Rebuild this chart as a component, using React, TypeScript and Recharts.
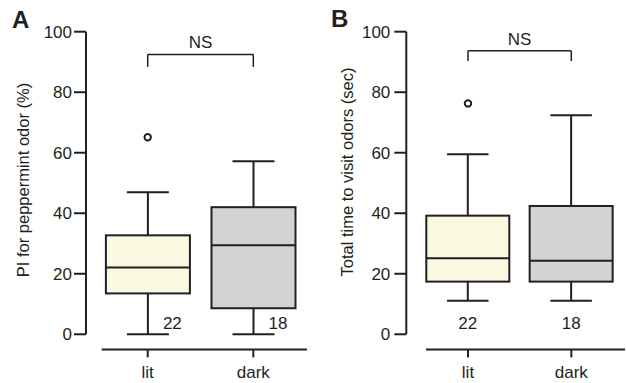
import React from "react";
import {
  ComposedChart,
  Bar,
  Line,
  XAxis,
  YAxis,
  ReferenceLine,
} from "recharts";

const categories = ["lit", "dark"];
const counts = [22, 18];

// panel A: PI for peppermint odor (%)
const piMin = [0, 0];
const piQ1 = [13.5, 8.6];
const piMedian = [22.1, 29.4];
const piQ3 = [32.7, 42.0];
const piMax = [46.9, 57.2];
const piOutlier = [65.1, null];

// panel B: total time to visit odors (sec)
const timeMin = [11.1, 11.1];
const timeQ1 = [17.4, 17.4];
const timeMedian = [25.1, 24.3];
const timeQ3 = [39.2, 42.4];
const timeMax = [59.5, 72.4];
const timeOutlier = [76.3, null];

const yTicks = [0, 20, 40, 60, 80, 100];
const boxFill = ["#fbf8e1", "#d3d3d3"];

const INK = "#231f20";
const FONT = "'Liberation Sans', Arial, Helvetica, sans-serif";
const FS = 17;

function buildRows(min: any[], q1: any[], med: any[], q3: any[], max: any[], out: any[]) {
  return categories.map((name, i) => ({
    name,
    min: min[i],
    q1: q1[i],
    median: med[i],
    q3: q3[i],
    max: max[i],
    outlier: out[i],
    n: counts[i],
    fill: boxFill[i],
  }));
}

const dataA = buildRows(piMin, piQ1, piMedian, piQ3, piMax, piOutlier);
const dataB = buildRows(timeMin, timeQ1, timeMedian, timeQ3, timeMax, timeOutlier);

const makeBoxShape = (countDx: number, anchor: string) => (props: any) => {
  const { x, y, width, height, payload } = props;
  const h = Math.abs(height);
  const top = height < 0 ? y + height : y;
  const span = payload.max - payload.min;
  const pix = (v: number) => top + (h * (payload.max - v)) / span;
  const cx = x + width / 2;
  const cap = width / 4;
  const zeroY = pix(0);
  return (
    <g>
      <line x1={cx} x2={cx} y1={pix(payload.max)} y2={pix(payload.min)} stroke={INK} strokeWidth={2} />
      <line x1={cx - cap} x2={cx + cap} y1={pix(payload.max)} y2={pix(payload.max)} stroke={INK} strokeWidth={2} />
      <line x1={cx - cap} x2={cx + cap} y1={pix(payload.min)} y2={pix(payload.min)} stroke={INK} strokeWidth={2} />
      <rect
        x={x}
        y={pix(payload.q3)}
        width={width}
        height={pix(payload.q1) - pix(payload.q3)}
        fill={payload.fill}
        stroke={INK}
        strokeWidth={2}
      />
      <line x1={x} x2={x + width} y1={pix(payload.median)} y2={pix(payload.median)} stroke={INK} strokeWidth={2} />
      <text
        x={cx + countDx}
        y={zeroY - 5}
        textAnchor={anchor}
        fontSize={FS}
        fontFamily={FONT}
        fill={INK}
      >
        {payload.n}
      </text>
    </g>
  );
};

const OutlierDot = (props: any) => {
  const { cx, cy, payload } = props;
  if (payload.outlier == null || cy == null) return null;
  return <circle cx={cx} cy={cy} r={3.2} fill="#fff" stroke={INK} strokeWidth={2} />;
};

function BoxPanel({ data, left, marginLeft, padLeft, padRight, marginRight, xGap, barSize, countDx, anchor, bracket, bracketEnd, yTickMargin }: any) {
  return (
    <div style={{ position: "absolute", left, top: 0 }}>
      <ComposedChart
        width={313}
        height={383}
        data={data}
        margin={{ top: 31.7, bottom: 3.6, left: marginLeft, right: marginRight }}
      >
        <XAxis
          dataKey="name"
          height={30}
          padding={{ left: padLeft, right: padRight }}
          axisLine={{ stroke: INK, strokeWidth: 2, strokeDasharray: `0 ${xGap} 600` }}
          tickLine={{ stroke: INK, strokeWidth: 2 }}
          tickSize={8}
          tickMargin={9}
          tick={{ fill: INK, fontSize: FS, fontFamily: FONT }}
        />
        <YAxis
          type="number"
          domain={[-5, 100]}
          ticks={yTicks}
          allowDataOverflow
          width={60}
          axisLine={{ stroke: INK, strokeWidth: 2, strokeDasharray: "302.6 600" }}
          tickLine={{ stroke: INK, strokeWidth: 2 }}
          tickSize={12}
          tickMargin={yTickMargin}
          tick={{ fill: INK, fontSize: FS, fontFamily: FONT }}
        />
        <Bar
          dataKey={(d: any) => [d.min, d.max]}
          barSize={barSize}
          shape={makeBoxShape(countDx, anchor)}
          isAnimationActive={false}
        />
        <Line
          dataKey="outlier"
          stroke="none"
          dot={<OutlierDot />}
          activeDot={false}
          isAnimationActive={false}
        />
        <ReferenceLine
          segment={[{ x: "lit", y: bracket }, { x: "dark", y: bracket }]}
          stroke={INK}
          strokeWidth={1.5}
          label={{ value: "NS", position: "top", offset: 6, fill: INK, fontSize: FS, fontFamily: FONT }}
        />
        <ReferenceLine segment={[{ x: "lit", y: bracket }, { x: "lit", y: bracketEnd }]} stroke={INK} strokeWidth={1.5} />
        <ReferenceLine segment={[{ x: "dark", y: bracket }, { x: "dark", y: bracketEnd }]} stroke={INK} strokeWidth={1.5} />
      </ComposedChart>
    </div>
  );
}

export default function App() {
  return (
    <div style={{ position: "absolute", left: 0, top: 0, width: 626, height: 383, background: "#fff" }}>
      <BoxPanel
        data={dataA}
        left={0}
        marginLeft={26}
        marginRight={6}
        padLeft={8.9}
        padRight={0.9}
        xGap={15.7}
        barSize={84}
        countDx={15}
        anchor="start"
        bracket={92.5}
        bracketEnd={88.4}
        yTickMargin={2}
      />
      <BoxPanel
        data={dataB}
        left={313}
        marginLeft={33.3}
        marginRight={1}
        padLeft={10}
        padRight={2}
        xGap={19.7}
        barSize={83}
        countDx={0}
        anchor="middle"
        bracket={93.7}
        bracketEnd={90.3}
        yTickMargin={4}
      />
      <svg width={626} height={383} style={{ position: "absolute", left: 0, top: 0, pointerEvents: "none" }}>
        <text x={12} y={28} fontSize={24} fontWeight="bold" fontFamily={FONT} fill={INK}>A</text>
        <text x={331} y={27} fontSize={24} fontWeight="bold" fontFamily={FONT} fill={INK}>B</text>
        <text
          transform="translate(23,180) rotate(-90)"
          textAnchor="middle"
          dominantBaseline="central"
          fontSize={16.5}
          fontFamily={FONT}
          fill={INK}
        >
          PI for peppermint odor (%)
        </text>
        <text
          transform="translate(347,172) rotate(-90)"
          textAnchor="middle"
          dominantBaseline="central"
          fontSize={16.5}
          fontFamily={FONT}
          fill={INK}
        >
          Total time to visit odors (sec)
        </text>
      </svg>
    </div>
  );
}
